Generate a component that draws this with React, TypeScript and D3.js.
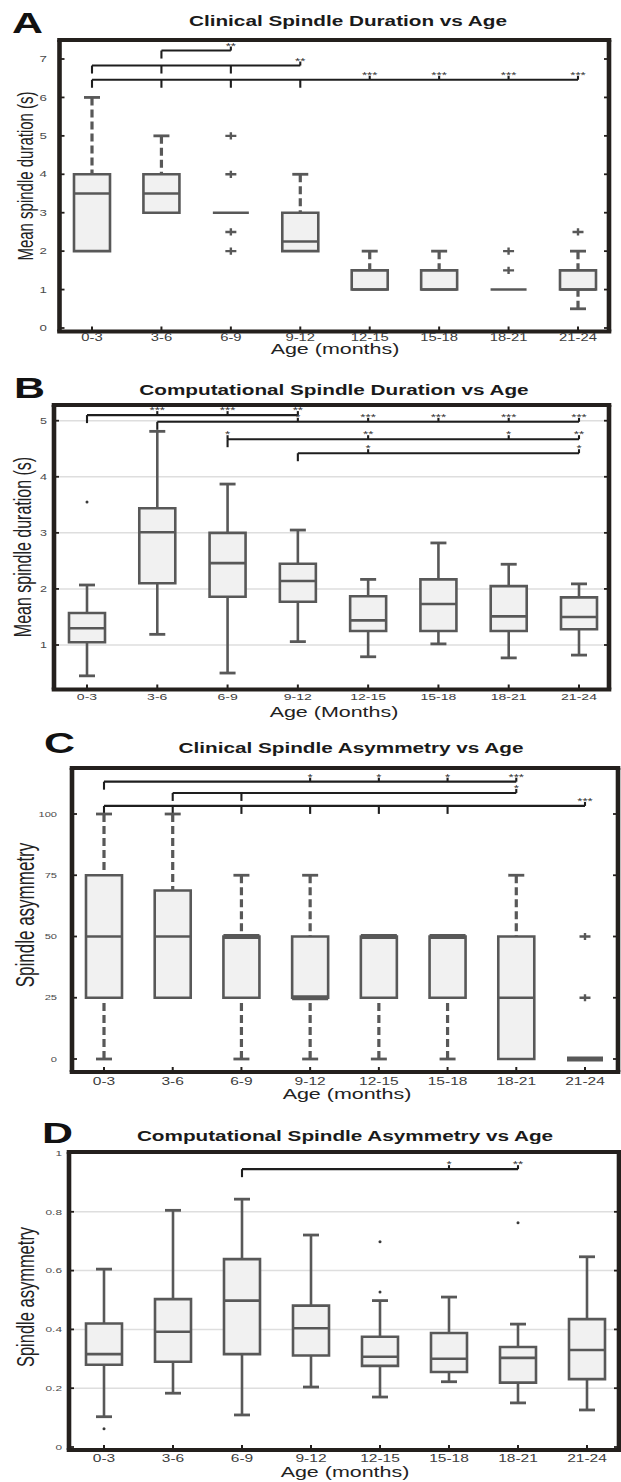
import React from 'react';
import * as d3 from 'd3';

// the source figure is stretched sideways, so we draw in a narrower space and scale x
const S = 1.48;
const W = 621;
const H = 1482;

const ageGroups = ['0-3', '3-6', '6-9', '9-12', '12-15', '15-18', '18-21', '21-24'];

// A - clinical spindle duration (s)
const clinDurLo = [2, 3, 3, 2, 1, 1, 1, 0.5];
const clinDurQ1 = [2, 3, 3, 2, 1, 1, 1, 1];
const clinDurMed = [3.5, 3.5, 3, 2.25, 1, 1, 1, 1];
const clinDurQ3 = [4, 4, 3, 3, 1.5, 1.5, 1, 1.5];
const clinDurHi = [6, 5, 3, 4, 2, 2, 1, 2];
const clinDurOut = [[], [], [5, 4, 2.5, 2], [], [], [], [2, 1.5], [2.5]];
const clinDurTicks = [0, 1, 2, 3, 4, 5, 6, 7];

// B - computational spindle duration (s)
const compDurLo = [0.45, 1.19, 0.5, 1.06, 0.79, 1.02, 0.77, 0.82];
const compDurQ1 = [1.05, 2.1, 1.86, 1.77, 1.25, 1.25, 1.25, 1.28];
const compDurMed = [1.3, 3.01, 2.46, 2.14, 1.44, 1.73, 1.51, 1.5];
const compDurQ3 = [1.57, 3.44, 3.0, 2.45, 1.87, 2.17, 2.05, 1.85];
const compDurHi = [2.07, 4.81, 3.87, 3.05, 2.17, 2.82, 2.44, 2.09];
const compDurOut = [[3.55], [], [], [], [], [], [], []];
const compDurTicks = [1, 2, 3, 4, 5];

// C - clinical spindle asymmetry
const clinAsymLo = [0, 25, 0, 0, 0, 0, 0, 0];
const clinAsymQ1 = [25, 25, 25, 25, 25, 25, 0, 0];
const clinAsymMed = [50, 50, 50, 25, 50, 50, 25, 0];
const clinAsymQ3 = [75, 68.75, 50, 50, 50, 50, 50, 0];
const clinAsymHi = [100, 100, 75, 75, 50, 50, 75, 0];
const clinAsymOut = [[], [], [], [], [], [], [], [50, 25]];
const clinAsymTicks = [0, 25, 50, 75, 100];

// D - computational spindle asymmetry
const compAsymLo = [0.103, 0.183, 0.109, 0.204, 0.17, 0.222, 0.15, 0.126];
const compAsymQ1 = [0.28, 0.29, 0.316, 0.311, 0.276, 0.255, 0.219, 0.231];
const compAsymMed = [0.316, 0.392, 0.498, 0.404, 0.307, 0.3, 0.303, 0.33];
const compAsymQ3 = [0.42, 0.503, 0.639, 0.481, 0.375, 0.388, 0.34, 0.435];
const compAsymHi = [0.605, 0.805, 0.843, 0.721, 0.498, 0.51, 0.418, 0.647];
const compAsymOut = [[0.062], [], [], [], [0.698, 0.527], [], [0.763], []];
const compAsymTicks = [0, 0.2, 0.4, 0.6, 0.8, 1];

// significance brackets: level, span, groups with a downward tick, groups with stars
type Bracket = { at: number; from: number; to: number; down: number[]; marks: [number, string][] };

const clinDurSig: Bracket[] = [
  { at: 7.22, from: 1, to: 2, down: [1], marks: [[2, '**']] },
  { at: 6.83, from: 0, to: 3, down: [0, 1, 2], marks: [[3, '**']] },
  { at: 6.46, from: 0, to: 7, down: [0, 1, 2, 3], marks: [[4, '***'], [5, '***'], [6, '***'], [7, '***']] },
];
const compDurSig: Bracket[] = [
  { at: 5.1, from: 0, to: 3, down: [0], marks: [[1, '***'], [2, '***'], [3, '**']] },
  { at: 4.98, from: 1, to: 7, down: [1], marks: [[3, '*'], [4, '***'], [5, '***'], [6, '***'], [7, '***']] },
  { at: 4.67, from: 2, to: 7, down: [2], marks: [[2, '*'], [4, '**'], [6, '*'], [7, '**']] },
  { at: 4.42, from: 3, to: 7, down: [3], marks: [[4, '*'], [7, '*']] },
];
const clinAsymSig: Bracket[] = [
  { at: 113.2, from: 0, to: 6, down: [0], marks: [[3, '*'], [4, '*'], [5, '*'], [6, '***']] },
  { at: 108.6, from: 1, to: 6, down: [1, 2], marks: [[6, '*']] },
  { at: 103.3, from: 0, to: 7, down: [0, 1, 2, 3, 4, 5], marks: [[7, '***']] },
];
const compAsymSig: Bracket[] = [
  { at: 0.945, from: 2, to: 6, down: [2], marks: [[5, '*'], [6, '**']] },
];

const FONT = '"Liberation Sans", Arial, Helvetica, sans-serif';
const FRAME = '#24201d';
const BOX_STROKE = '#585858';
const BOX_FILL = '#f1f1f1';
const BOX_W = 36;
const CAP_W = 16;

type PanelCfg = {
  letter: string; letterX: number; letterY: number;
  title: string; titleX: number; titleY: number;
  yLabel: string; yLabelX: number; yLabelY: number; yLabelSize: number;
  xLabel: string; xLabelX: number; xLabelY: number;
  frame: [number, number, number, number];
  xFirst: number; xLast: number;
  yAnchor: [[number, number], [number, number]];
  ticks: number[]; yTickRight: number; yTickSize: number;
  xTickY: number; xTickSize: number;
  lo: number[]; q1: number[]; med: number[]; q3: number[]; hi: number[]; out: number[][];
  sig: Bracket[];
  dashed: boolean; marker: 'plus' | 'dot'; grid: boolean; thickMedian: boolean;
};

const panels: PanelCfg[] = [
  {
    letter: 'A', letterX: 12, letterY: 33,
    title: 'Clinical Spindle Duration vs Age', titleX: 348, titleY: 26,
    yLabel: 'Mean spindle duration (s)', yLabelX: 25, yLabelY: 176, yLabelSize: 15,
    xLabel: 'Age (months)', xLabelX: 335, xLabelY: 354,
    frame: [59.5, 609, 40, 331.5], xFirst: 92, xLast: 578,
    yAnchor: [[0, 328], [7, 59]], ticks: clinDurTicks, yTickRight: 47, yTickSize: 9,
    xTickY: 341, xTickSize: 10,
    lo: clinDurLo, q1: clinDurQ1, med: clinDurMed, q3: clinDurQ3, hi: clinDurHi, out: clinDurOut,
    sig: clinDurSig, dashed: true, marker: 'plus', grid: false, thickMedian: false,
  },
  {
    letter: 'B', letterX: 14, letterY: 398,
    title: 'Computational Spindle Duration vs Age', titleX: 334, titleY: 395,
    yLabel: 'Mean spindle duration (s)', yLabelX: 23, yLabelY: 547, yLabelSize: 16,
    xLabel: 'Age (Months)', xLabelX: 334, xLabelY: 717,
    frame: [54, 609, 405, 689.5], xFirst: 87, xLast: 579,
    yAnchor: [[1, 645], [5, 420.7]], ticks: compDurTicks, yTickRight: 47, yTickSize: 8.5,
    xTickY: 700, xTickSize: 9.5,
    lo: compDurLo, q1: compDurQ1, med: compDurMed, q3: compDurQ3, hi: compDurHi, out: compDurOut,
    sig: compDurSig, dashed: false, marker: 'dot', grid: true, thickMedian: false,
  },
  {
    letter: 'C', letterX: 44, letterY: 753,
    title: 'Clinical Spindle Asymmetry vs Age', titleX: 351, titleY: 753,
    yLabel: 'Spindle asymmetry', yLabelX: 25, yLabelY: 915, yLabelSize: 17,
    xLabel: 'Age (months)', xLabelX: 347, xLabelY: 1099,
    frame: [72, 618, 768, 1072], xFirst: 104, xLast: 585,
    yAnchor: [[0, 1059], [100, 814]], ticks: clinAsymTicks, yTickRight: 57, yTickSize: 7.5,
    xTickY: 1085, xTickSize: 10.5,
    lo: clinAsymLo, q1: clinAsymQ1, med: clinAsymMed, q3: clinAsymQ3, hi: clinAsymHi, out: clinAsymOut,
    sig: clinAsymSig, dashed: true, marker: 'plus', grid: false, thickMedian: true,
  },
  {
    letter: 'D', letterX: 42, letterY: 1143,
    title: 'Computational Spindle Asymmetry vs Age', titleX: 345, titleY: 1141,
    yLabel: 'Spindle asymmetry', yLabelX: 25, yLabelY: 1297, yLabelSize: 16.5,
    xLabel: 'Age (months)', xLabelX: 345, xLabelY: 1477,
    frame: [69, 619, 1152, 1450], xFirst: 104, xLast: 587,
    yAnchor: [[0, 1447], [1, 1153]], ticks: compAsymTicks, yTickRight: 62, yTickSize: 8,
    xTickY: 1462, xTickSize: 10.5,
    lo: compAsymLo, q1: compAsymQ1, med: compAsymMed, q3: compAsymQ3, hi: compAsymHi, out: compAsymOut,
    sig: compAsymSig, dashed: false, marker: 'dot', grid: true, thickMedian: false,
  },
];

const NS = 'non-scaling-stroke';

function Panel({ c }: { c: PanelCfg }) {
  const [fl, fr, ft, fb] = c.frame;
  const L = fl / S;
  const R = fr / S;
  const x = d3.scalePoint<string>().domain(ageGroups).range([c.xFirst / S, c.xLast / S]);
  const y = d3.scaleLinear()
    .domain([c.yAnchor[0][0], c.yAnchor[1][0]])
    .range([c.yAnchor[0][1], c.yAnchor[1][1]]);
  const hb = BOX_W / S / 2;
  const hc = CAP_W / S / 2;
  const wStroke = c.dashed ? 3.2 : 2.6;
  const dash = c.dashed ? '8 4' : undefined;

  return (
    <g>
      {/* grid */}
      {c.grid && c.ticks.filter(t => y(t) > ft + 3 && y(t) < fb - 3).map(t => (
        <line key={'g' + t} x1={L} x2={R} y1={y(t)} y2={y(t)} stroke="#dedede" strokeWidth={1.5} vectorEffect={NS} />
      ))}

      {/* significance brackets */}
      {c.sig.map((b, bi) => {
        const ly = y(b.at);
        return (
          <g key={'s' + bi} stroke="#1e1e1e" strokeWidth={2.1}>
            <line x1={x(ageGroups[b.from])} x2={x(ageGroups[b.to])} y1={ly} y2={ly} vectorEffect={NS} />
            {b.down.map(d => (
              <line key={'d' + d} x1={x(ageGroups[d])} x2={x(ageGroups[d])} y1={ly} y2={ly + 8} vectorEffect={NS} />
            ))}
            {b.marks.map(([m, txt]) => (
              <g key={'m' + m}>
                <line x1={x(ageGroups[m])} x2={x(ageGroups[m])} y1={ly} y2={ly - 4} vectorEffect={NS} />
                <text x={x(ageGroups[m])} y={ly - 2} textAnchor="middle" fontSize={9} fill="#333" stroke="none">{txt}</text>
              </g>
            ))}
          </g>
        );
      })}

      {/* boxes */}
      {ageGroups.map((g, i) => {
        const cx = x(g)!;
        const q1 = c.q1[i], q3 = c.q3[i], md = c.med[i], lo = c.lo[i], hi = c.hi[i];
        const coincide = md === q1 || md === q3;
        const mw = c.thickMedian && coincide ? 5 : 2.6;
        return (
          <g key={g} stroke={BOX_STROKE}>
            {hi > q3 && (
              <>
                <line x1={cx} x2={cx} y1={y(hi)} y2={y(q3)} strokeWidth={wStroke} strokeDasharray={dash} vectorEffect={NS} />
                <line x1={cx - hc} x2={cx + hc} y1={y(hi)} y2={y(hi)} strokeWidth={2.8} vectorEffect={NS} />
              </>
            )}
            {lo < q1 && (
              <>
                <line x1={cx} x2={cx} y1={y(lo)} y2={y(q1)} strokeWidth={wStroke} strokeDasharray={dash} vectorEffect={NS} />
                <line x1={cx - hc} x2={cx + hc} y1={y(lo)} y2={y(lo)} strokeWidth={2.8} vectorEffect={NS} />
              </>
            )}
            {q3 > q1 && (
              <rect x={cx - hb} width={2 * hb} y={y(q3)} height={y(q1) - y(q3)} fill={BOX_FILL} strokeWidth={2.6} vectorEffect={NS} />
            )}
            <line x1={cx - hb} x2={cx + hb} y1={y(md)} y2={y(md)} strokeWidth={mw} vectorEffect={NS} />
            {c.out[i].map((o, k) => c.marker === 'plus' ? (
              <path key={k} d={`M${cx - 5.5 / S},${y(o)}H${cx + 5.5 / S}M${cx},${y(o) - 3.6}V${y(o) + 3.6}`}
                strokeWidth={2.4} fill="none" vectorEffect={NS} />
            ) : (
              <ellipse key={k} cx={cx} cy={y(o)} rx={1.5 / S} ry={1.5} fill="#3a3a3a" stroke="none" />
            ))}
          </g>
        );
      })}

      {/* frame and inward ticks */}
      <g stroke={FRAME}>
        {c.ticks.filter(t => y(t) >= ft - 1 && y(t) <= fb).map(t => (
          <g key={'t' + t}>
            <line x1={L} x2={L + 5 / S} y1={y(t)} y2={y(t)} strokeWidth={1.8} vectorEffect={NS} />
            <line x1={R} x2={R - 5 / S} y1={y(t)} y2={y(t)} strokeWidth={1.8} vectorEffect={NS} />
          </g>
        ))}
        {ageGroups.map(g => (
          <line key={'x' + g} x1={x(g)} x2={x(g)} y1={fb} y2={fb - 5} strokeWidth={2} vectorEffect={NS} />
        ))}
        <line x1={L - 2.3 / S} x2={R + 2.3 / S} y1={ft} y2={ft} strokeWidth={3.8} vectorEffect={NS} />
        <line x1={L - 2.3 / S} x2={R + 2.3 / S} y1={fb} y2={fb} strokeWidth={3.8} vectorEffect={NS} />
        <line x1={L} x2={L} y1={ft} y2={fb} strokeWidth={4.6} vectorEffect={NS} />
        <line x1={R} x2={R} y1={ft} y2={fb} strokeWidth={4.6} vectorEffect={NS} />
      </g>

      {/* tick labels */}
      {c.ticks.map(t => (
        <text key={'yl' + t} x={c.yTickRight / S} y={y(t)} dy="0.35em" textAnchor="end" fontSize={c.yTickSize} fill="#4a4a4a">{String(t)}</text>
      ))}
      {ageGroups.map(g => (
        <text key={'xl' + g} x={x(g)} y={c.xTickY} textAnchor="middle" fontSize={c.xTickSize} fill="#3c3c3c">{g}</text>
      ))}

      {/* labels */}
      <text x={c.xLabelX / S} y={c.xLabelY} textAnchor="middle" fontSize={14.5} fill="#222">{c.xLabel}</text>
      <text transform={`translate(${c.yLabelX / S},${c.yLabelY}) rotate(-90)`} dy="0.35em" textAnchor="middle"
        fontSize={c.yLabelSize} fill="#222">{c.yLabel}</text>
      <text x={c.titleX / S} y={c.titleY} textAnchor="middle" fontSize={14} fontWeight="bold" fill="#1a1a1a">{c.title}</text>
      <text x={c.letterX / S} y={c.letterY} fontSize={29} fontWeight="bold" fill="#111">{c.letter}</text>
    </g>
  );
}

export default function App() {
  return (
    <div style={{ position: 'absolute', left: 0, top: 0, width: W, height: H, background: '#fff' }}>
      <svg width={W} height={H} viewBox={`0 0 ${W / S} ${H}`} preserveAspectRatio="none"
        style={{ display: 'block' }} fontFamily={FONT}>
        <rect width={W / S} height={H} fill="#fff" />
        {panels.map(p => <Panel key={p.letter} c={p} />)}
      </svg>
    </div>
  );
}
